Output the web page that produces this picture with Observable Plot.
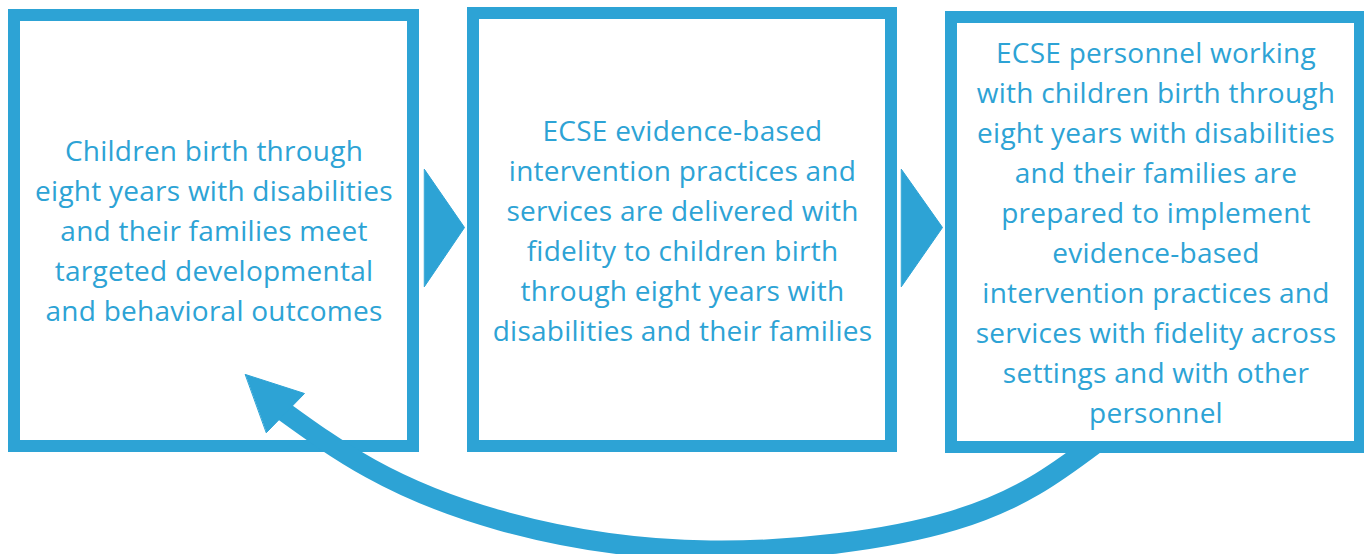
<!DOCTYPE html>
<html>
<head>
<meta charset="utf-8">
<script src="https://cdn.jsdelivr.net/npm/d3@7"></script>
<script src="https://cdn.jsdelivr.net/npm/@observablehq/plot@0.6"></script>
<style>
  html, body { margin: 0; padding: 0; background: #ffffff; }
  #chart svg { display: block; }
  #chart text { letter-spacing: 0.25px; }
</style>
</head>
<body>
<div id="chart"></div>
<script>
// ---- data ----
const boxNames = ["outcomes", "practices", "personnel"];
const boxX1 = [14, 473, 951];
const boxX2 = [413, 891, 1360];
const boxY1 = [15, 13, 17];
const boxY2 = [446, 446, 447];

const box1Lines = ["Children birth through", "eight years with disabilities", "and their families meet", "targeted developmental", "and behavioral outcomes"];
const box2Lines = ["ECSE evidence-based", "intervention practices and", "services are delivered with", "fidelity to children birth", "through eight years with", "disabilities and their families"];
const box3Lines = ["ECSE personnel working", "with children birth through", "eight years with disabilities", "and their families are", "prepared to implement", "evidence-based", "intervention practices and", "services with fidelity across", "settings and with other", "personnel"];
const textX = [213.5, 682, 1155.5];
const textY = [228, 228, 230];

// connector triangles (right-pointing)
const triId = ["a", "a", "a", "b", "b", "b"];
const triX = [424, 464, 424, 901, 942, 901];
const triY = [169, 227, 286, 169, 227, 286];

// feedback arrow: shaft path and head
const shaftX = [1094, 953, 710, 500, 370, 282];
const shaftY = [444, 520, 550, 520, 468, 410];
const headX = [245, 304, 266];
const headY = [374, 393, 432];

const blue = "#2DA3D5";

// ---- tables ----
const boxes = boxNames.map((n, i) => ({name: n, x1: boxX1[i], x2: boxX2[i], y1: boxY1[i], y2: boxY2[i]}));
const texts = [box1Lines, box2Lines, box3Lines].map((lines, i) => ({x: textX[i], y: textY[i], text: lines.join("\n")}));
const tris = triId.map((id, i) => ({id, x: triX[i], y: triY[i]}));
const shaft = shaftX.map((x, i) => ({x, y: shaftY[i]}));
const head = headX.map((x, i) => ({x, y: headY[i]}));

const fontSize = 28;

const chart = Plot.plot({
  width: 1364,
  height: 554,
  margin: 0,
  x: {domain: [0, 1364], range: [0, 1364], axis: null},
  y: {domain: [0, 554], range: [0, 554], axis: null},
  style: {background: "#ffffff"},
  marks: [
    Plot.rect(boxes, {x1: "x1", x2: "x2", y1: "y1", y2: "y2", fill: "white", stroke: blue, strokeWidth: 12}),
    Plot.line(shaft, {x: "x", y: "y", curve: "natural", stroke: blue, strokeWidth: 20, strokeLinecap: "butt", strokeLinejoin: "miter"}),
    Plot.rect(boxes.filter(d => d.name === "personnel"), {x1: "x1", x2: "x2", y1: "y1", y2: "y2", fill: "white", stroke: blue, strokeWidth: 12}),
    Plot.line(head, {x: "x", y: "y", curve: "linear-closed", fill: blue, stroke: blue, strokeWidth: 1}),
    Plot.line(tris, {x: "x", y: "y", z: "id", curve: "linear-closed", fill: blue, stroke: blue, strokeWidth: 1}),
    Plot.text(texts, {x: "x", y: "y", text: "text", textAnchor: "middle", lineAnchor: "middle", lineHeight: 40 / fontSize, fontSize, fill: blue, fontFamily: "'Open Sans', sans-serif"})
  ]
});
document.getElementById("chart").appendChild(chart);
</script>
</body>
</html>
